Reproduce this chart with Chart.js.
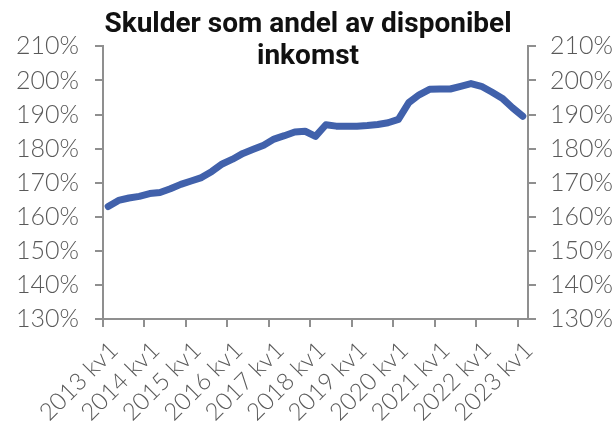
<!DOCTYPE html>
<html>
<head>
<meta charset="utf-8">
<script src="https://cdn.jsdelivr.net/npm/chart.js@4/dist/chart.umd.min.js"></script>
<style>
  html, body { margin: 0; padding: 0; background: #fff; }
  #wrap { width: 616px; height: 421px; }
</style>
</head>
<body>
<div id="wrap"><canvas id="chart" width="616" height="421"></canvas></div>
<script>
// kvartal 2013 kv1 .. 2023 kv1
const years = [2013, 2014, 2015, 2016, 2017, 2018, 2019, 2020, 2021, 2022, 2023];
const quarters = [];
years.forEach(y => {
    for (let q = 1; q <= 4; q++) {
        if (y === 2023 && q > 1) break;
        quarters.push(y + ' kv' + q);
    }
});

// skuld / disponibel inkomst, procent (avläst)
const debtRatio = [
    163.0, 164.8, 165.5, 166.0,
    166.8, 167.1, 168.2, 169.5,
    170.5, 171.5, 173.3, 175.5,
    176.9, 178.6, 179.8, 181.0,
    182.8, 183.8, 184.9, 185.1,
    183.6, 187.0, 186.6, 186.6,
    186.6, 186.8, 187.1, 187.6,
    188.6, 193.5, 195.8, 197.4,
    197.5, 197.5, 198.3, 199.1,
    198.3, 196.6, 194.8, 192.0,
    189.5
];

const yTicks = { min: 130, max: 210, step: 10 };

const labelColor = '#595959';
const axisColor = '#8f8f8f';

const yAxis = (pos) => ({
    position: pos,
    min: yTicks.min,
    max: yTicks.max,
    border: { display: true, color: axisColor, width: 2 },
    grid: { drawOnChartArea: false, drawTicks: true, tickLength: 8, color: axisColor, lineWidth: 2 },
    ticks: {
        stepSize: yTicks.step,
        padding: pos === 'left' ? 16 : 14,
        color: labelColor,
        font: { family: 'Lato', size: 25, weight: '300' },
        callback: v => v + '%'
    },
    afterFit: s => { s.width = pos === 'left' ? 103 : 88; }
});

new Chart(document.getElementById('chart'), {
    type: 'line',
    data: {
        labels: quarters,
        datasets: [{
            data: debtRatio,
            borderColor: '#4161ab',
            borderWidth: 7,
            borderCapStyle: 'round',
            borderJoinStyle: 'round',
            pointRadius: 0,
            tension: 0,
            fill: false
        }]
    },
    options: {
        responsive: false,
        animation: false,
        devicePixelRatio: 1,
        layout: { padding: 0 },
        plugins: {
            legend: { display: false },
            tooltip: { enabled: false },
            title: {
                display: true,
                text: ['Skulder som andel av disponibel', 'inkomst'],
                color: '#111',
                font: { family: 'Roboto', size: 28, weight: 'bold', lineHeight: 1.15 },
                padding: { top: 9, bottom: -27 }
            }
        },
        scales: {
            x: {
                type: 'category',
                offset: true,
                border: { display: true, color: axisColor, width: 2 },
                grid: {
                    offset: true,
                    drawOnChartArea: false,
                    drawTicks: true,
                    tickLength: 8,
                    lineWidth: 2,
                    color: ctx => (ctx.index % 4 === 0 ? axisColor : 'rgba(0,0,0,0)')
                },
                ticks: {
                    autoSkip: false,
                    maxRotation: 45,
                    minRotation: 45,
                    padding: 9,
                    labelOffset: 6,
                    color: labelColor,
                    font: { family: 'Lato', size: 24, weight: '300' },
                    callback: function (val, i) {
                        return i % 4 === 0 ? this.getLabelForValue(val) : '';
                    }
                },
                afterFit: s => { s.height = 102; }
            },
            y: yAxis('left'),
            y2: yAxis('right')
        }
    }
});
</script>
</body>
</html>
